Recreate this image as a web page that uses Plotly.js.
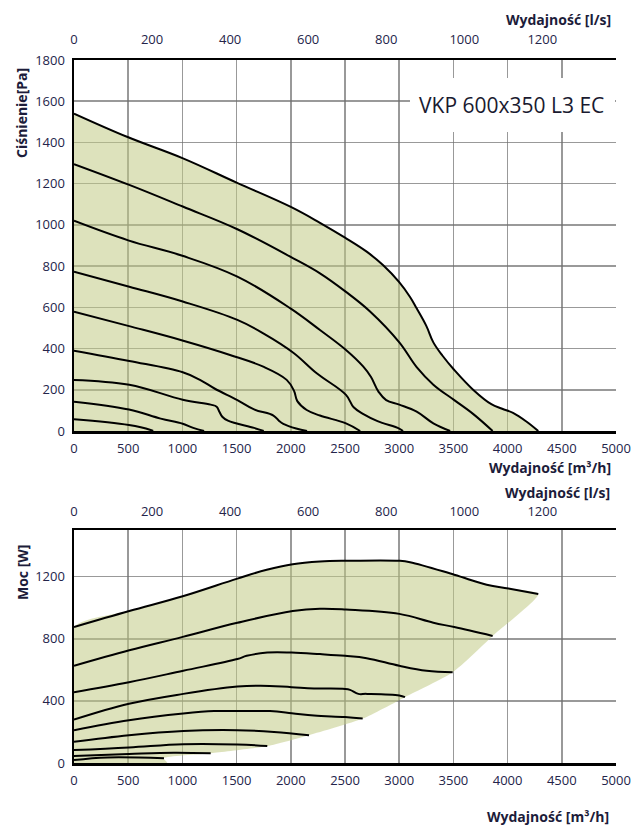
<!DOCTYPE html>
<html>
<head>
<meta charset="utf-8">
<script src="https://cdn.plot.ly/plotly-3.0.1.min.js"></script>
<style>html,body{margin:0;padding:0;background:#fff;}#chart{width:638px;height:827px;}</style>
</head>
<body>
<div id="chart"></div>
<script>
// ---------- DATA ----------
const flowTicks = [0, 500, 1000, 1500, 2000, 2500, 3000, 3500, 4000, 4500, 5000]; // m3/h
const lsTicks = [0, 200, 400, 600, 800, 1000, 1200]; // l/s
const flowMax = 5000;
const m3hPerLs = 3.6;
const pressureTicks = [0, 200, 400, 600, 800, 1000, 1200, 1400, 1600, 1800];
const powerTicks = [0, 400, 800, 1200];
const chartTitle = 'VKP 600x350 L3 EC';

// Pressure curves [Pa] vs flow [m3/h]
const p1Q = [0, 500, 1000, 1500, 2000, 2269, 2500, 2700, 2850, 3000, 3100, 3161, 3250, 3315, 3400, 3508, 3684, 3850, 3950, 4050, 4176, 4283];
const p1P = [1540, 1425, 1324, 1205, 1087, 1010, 938, 870, 805, 722, 650, 595, 510, 430, 365, 296, 199, 130, 108, 88, 45, 0];
const p2Q = [0, 510, 1003, 1507, 2023, 2269, 2509, 2731, 3001, 3161, 3315, 3508, 3684, 3862];
const p2P = [1295, 1194, 1089, 979, 838, 765, 675, 580, 430, 310, 225, 150, 82, 0];
const p3Q = [0, 500, 1000, 1507, 1993, 2269, 2509, 2669, 2740, 2810, 2880, 3001, 3161, 3315, 3470];
const p3P = [1020, 925, 850, 749, 596, 490, 393, 312, 262, 190, 150, 128, 94, 37, 0];
const p4Q = [0, 510, 1003, 1507, 1746, 2023, 2239, 2509, 2580, 2670, 2800, 3000, 3035];
const p4P = [773, 700, 628, 539, 474, 380, 280, 175, 115, 82, 48, 12, 0];
const p5Q = [0, 500, 1008, 1439, 1746, 1962, 2030, 2060, 2147, 2269, 2509, 2640];
const p5P = [579, 510, 438, 369, 312, 248, 195, 145, 102, 75, 37, 0];
const p6Q = [0, 510, 1003, 1162, 1300, 1507, 1661, 1840, 1890, 1931, 2050, 2150];
const p6P = [390, 340, 285, 248, 205, 150, 105, 75, 50, 35, 12, 0];
const p7Q = [0, 510, 1003, 1261, 1316, 1340, 1368, 1420, 1661, 1750];
const p7P = [248, 224, 152, 128, 118, 95, 69, 50, 15, 0];
const p8Q = [0, 507, 800, 1003, 1100, 1200];
const p8P = [142, 104, 60, 35, 15, 0];
const p9Q = [0, 507, 707, 730];
const p9P = [57, 29, 5, 0];

// Power curves [W] vs flow [m3/h]
const w1Q = [0, 510, 1003, 1507, 1778, 2018, 2269, 2509, 3001, 3100, 3508, 3807, 4007, 4283];
const w1W = [875, 978, 1073, 1187, 1244, 1280, 1297, 1302, 1302, 1293, 1212, 1148, 1123, 1088];
const w2Q = [0, 510, 1003, 1507, 2018, 2269, 2509, 3001, 3315, 3508, 3862];
const w2W = [626, 726, 812, 903, 978, 993, 988, 960, 903, 875, 818];
const w3Q = [0, 507, 1008, 1507, 1593, 1783, 2008, 2269, 2500, 2700, 3001, 3253, 3493];
const w3W = [456, 520, 594, 669, 690, 711, 711, 701, 690, 675, 626, 594, 584];
const w4Q = [0, 507, 1008, 1507, 1722, 2008, 2214, 2500, 2546, 2623, 2700, 3001, 3053];
const w4W = [279, 381, 445, 492, 498, 488, 480, 477, 471, 445, 445, 435, 424];
const w5Q = [0, 507, 1008, 1292, 1507, 1808, 2008, 2214, 2500, 2663];
const w5W = [211, 275, 318, 334, 334, 334, 321, 305, 296, 286];
const w6Q = [0, 507, 1008, 1507, 1845, 2168];
const w6W = [136, 179, 206, 211, 200, 179];
const w7Q = [0, 507, 1008, 1507, 1783];
const w7W = [83, 100, 121, 119, 109];
const w8Q = [0, 507, 922, 1261];
const w8W = [45, 58, 66, 62];
const w9Q = [0, 307, 830];
const w9W = [19, 36, 30];
const powerFillBaseQ = 860; // where the shaded power area meets 0 W

// ---------- BUILD ----------
const pressureCurves = [[p1Q,p1P],[p2Q,p2P],[p3Q,p3P],[p4Q,p4P],[p5Q,p5P],[p6Q,p6P],[p7Q,p7P],[p8Q,p8P],[p9Q,p9P]];
const powerCurves = [[w1Q,w1W],[w2Q,w2W],[w3Q,w3W],[w4Q,w4W],[w5Q,w5W],[w6Q,w6W],[w7Q,w7W],[w8Q,w8W],[w9Q,w9W]];

const fillColor = 'rgba(193,202,133,0.55)';
const traces = [];

// Pressure fill area
traces.push({x: p1Q, y: p1P, xaxis: 'x2', yaxis: 'y2', mode: 'lines', fill: 'tozeroy',
  fillcolor: fillColor, line: {width: 0, shape: 'spline', smoothing: 1.1}, hoverinfo: 'skip'});

// Power fill polygon: top curve, then back along end points of the other curves
const envQ = powerCurves.slice(1).map(c => c[0][c[0].length - 1]);
const envW = powerCurves.slice(1).map(c => c[1][c[1].length - 1]);
const polyQ = [0].concat(w1Q, envQ, [powerFillBaseQ, 0]);
const polyW = [0].concat(w1W, envW, [0, 0]);
traces.push({x: polyQ, y: polyW, xaxis: 'x', yaxis: 'y', mode: 'lines', fill: 'toself',
  fillcolor: fillColor, line: {width: 0, shape: 'spline', smoothing: 0.6}, hoverinfo: 'skip'});

pressureCurves.forEach(c => traces.push({x: c[0], y: c[1], xaxis: 'x2', yaxis: 'y2', mode: 'lines',
  line: {color: '#000', width: 2, shape: 'spline', smoothing: 1.1}, hoverinfo: 'skip'}));
powerCurves.forEach(c => traces.push({x: c[0], y: c[1], xaxis: 'x', yaxis: 'y', mode: 'lines',
  line: {color: '#000', width: 2, shape: 'spline', smoothing: 1.1}, hoverinfo: 'skip'}));

// anchor traces for the l/s axes
traces.push({x: [], y: [], xaxis: 'x3', yaxis: 'y2', mode: 'lines', hoverinfo: 'skip'});
traces.push({x: [], y: [], xaxis: 'x4', yaxis: 'y', mode: 'lines', hoverinfo: 'skip'});

const tickFont = {family: 'Open Sans, sans-serif', size: 13, color: '#24244a'};
const gridColor = 'rgba(110,110,110,0.7)';
const baseX = {range: [0, flowMax], tickvals: flowTicks, showgrid: true, gridcolor: gridColor, gridwidth: 1.6,
  zeroline: false, showline: true, linecolor: '#000', linewidth: 2.5, ticks: 'outside', ticklen: 4,
  tickcolor: 'rgba(0,0,0,0)', tickfont: tickFont, fixedrange: true};
const baseLs = {range: [0, flowMax / m3hPerLs], tickvals: lsTicks, side: 'top', showgrid: false,
  zeroline: false, showline: true, linecolor: '#000', linewidth: 2.5, ticks: 'outside', ticklen: 8,
  tickcolor: 'rgba(0,0,0,0)', tickfont: tickFont, fixedrange: true};
const baseY = {showgrid: true, gridcolor: gridColor, gridwidth: 1.6, zeroline: false, showline: true,
  linecolor: '#000', linewidth: 2.5, ticks: 'outside', ticklen: 4, tickcolor: 'rgba(0,0,0,0)',
  tickfont: tickFont, fixedrange: true};

// pixel -> paper helpers (plot area: x 74..616, y 60..763)
const W = 638, H = 827, ML = 74, MR = 22, MT = 60, MB = 64;
const px = v => (v - ML) / (W - ML - MR);
const py = v => (H - MB - v) / (H - MT - MB);

const titleFont = {family: 'Open Sans, sans-serif', size: 14, color: '#1c1c3a', weight: 'bold'};

const layout = {
  width: W, height: H,
  margin: {l: ML, r: MR, t: MT, b: MB, pad: 0},
  paper_bgcolor: '#fff', plot_bgcolor: '#fff',
  showlegend: false,
  xaxis: Object.assign({}, baseX, {anchor: 'y', domain: [0, 1]}),
  yaxis: Object.assign({}, baseY, {anchor: 'x', domain: [0, py(530)], range: [0, 1500], tickvals: powerTicks}),
  xaxis2: Object.assign({}, baseX, {anchor: 'y2', domain: [0, 1]}),
  yaxis2: Object.assign({}, baseY, {anchor: 'x2', domain: [py(431), 1], range: [0, 1800], tickvals: pressureTicks}),
  xaxis3: Object.assign({}, baseLs, {anchor: 'y2', overlaying: 'x2'}),
  xaxis4: Object.assign({}, baseLs, {anchor: 'y', overlaying: 'x', ticklen: 6}),
  shapes: [
    {type: 'rect', xref: 'paper', yref: 'paper', x0: px(410), x1: px(615), y0: py(132), y1: py(78),
      fillcolor: '#fff', line: {width: 0}, layer: 'above'}
  ],
  annotations: [
    {text: chartTitle, xref: 'paper', yref: 'paper', x: px(606), y: py(105), xanchor: 'right', yanchor: 'middle',
      showarrow: false, font: {family: 'Open Sans, sans-serif', size: 21, color: '#1a1a30'}},
    {text: 'Wydajność [l/s]', xref: 'paper', yref: 'paper', x: px(613), y: py(20), xanchor: 'right', yanchor: 'middle',
      showarrow: false, font: titleFont},
    {text: 'Ciśnienie[Pa]', xref: 'paper', yref: 'paper', x: px(21), y: py(113), xanchor: 'center', yanchor: 'middle',
      textangle: -90, showarrow: false, font: titleFont},
    {text: 'Wydajność [m³/h]', xref: 'paper', yref: 'paper', x: px(613), y: py(467), xanchor: 'right', yanchor: 'middle',
      showarrow: false, font: titleFont},
    {text: 'Wydajność [l/s]', xref: 'paper', yref: 'paper', x: px(612), y: py(492), xanchor: 'right', yanchor: 'middle',
      showarrow: false, font: titleFont},
    {text: 'Moc [W]', xref: 'paper', yref: 'paper', x: px(22), y: py(572), xanchor: 'center', yanchor: 'middle',
      textangle: -90, showarrow: false, font: titleFont},
    {text: 'Wydajność [m³/h]', xref: 'paper', yref: 'paper', x: px(611), y: py(816), xanchor: 'right', yanchor: 'middle',
      showarrow: false, font: titleFont}
  ]
};

Plotly.newPlot('chart', traces, layout, {staticPlot: true, displayModeBar: false});
</script>
</body>
</html>
